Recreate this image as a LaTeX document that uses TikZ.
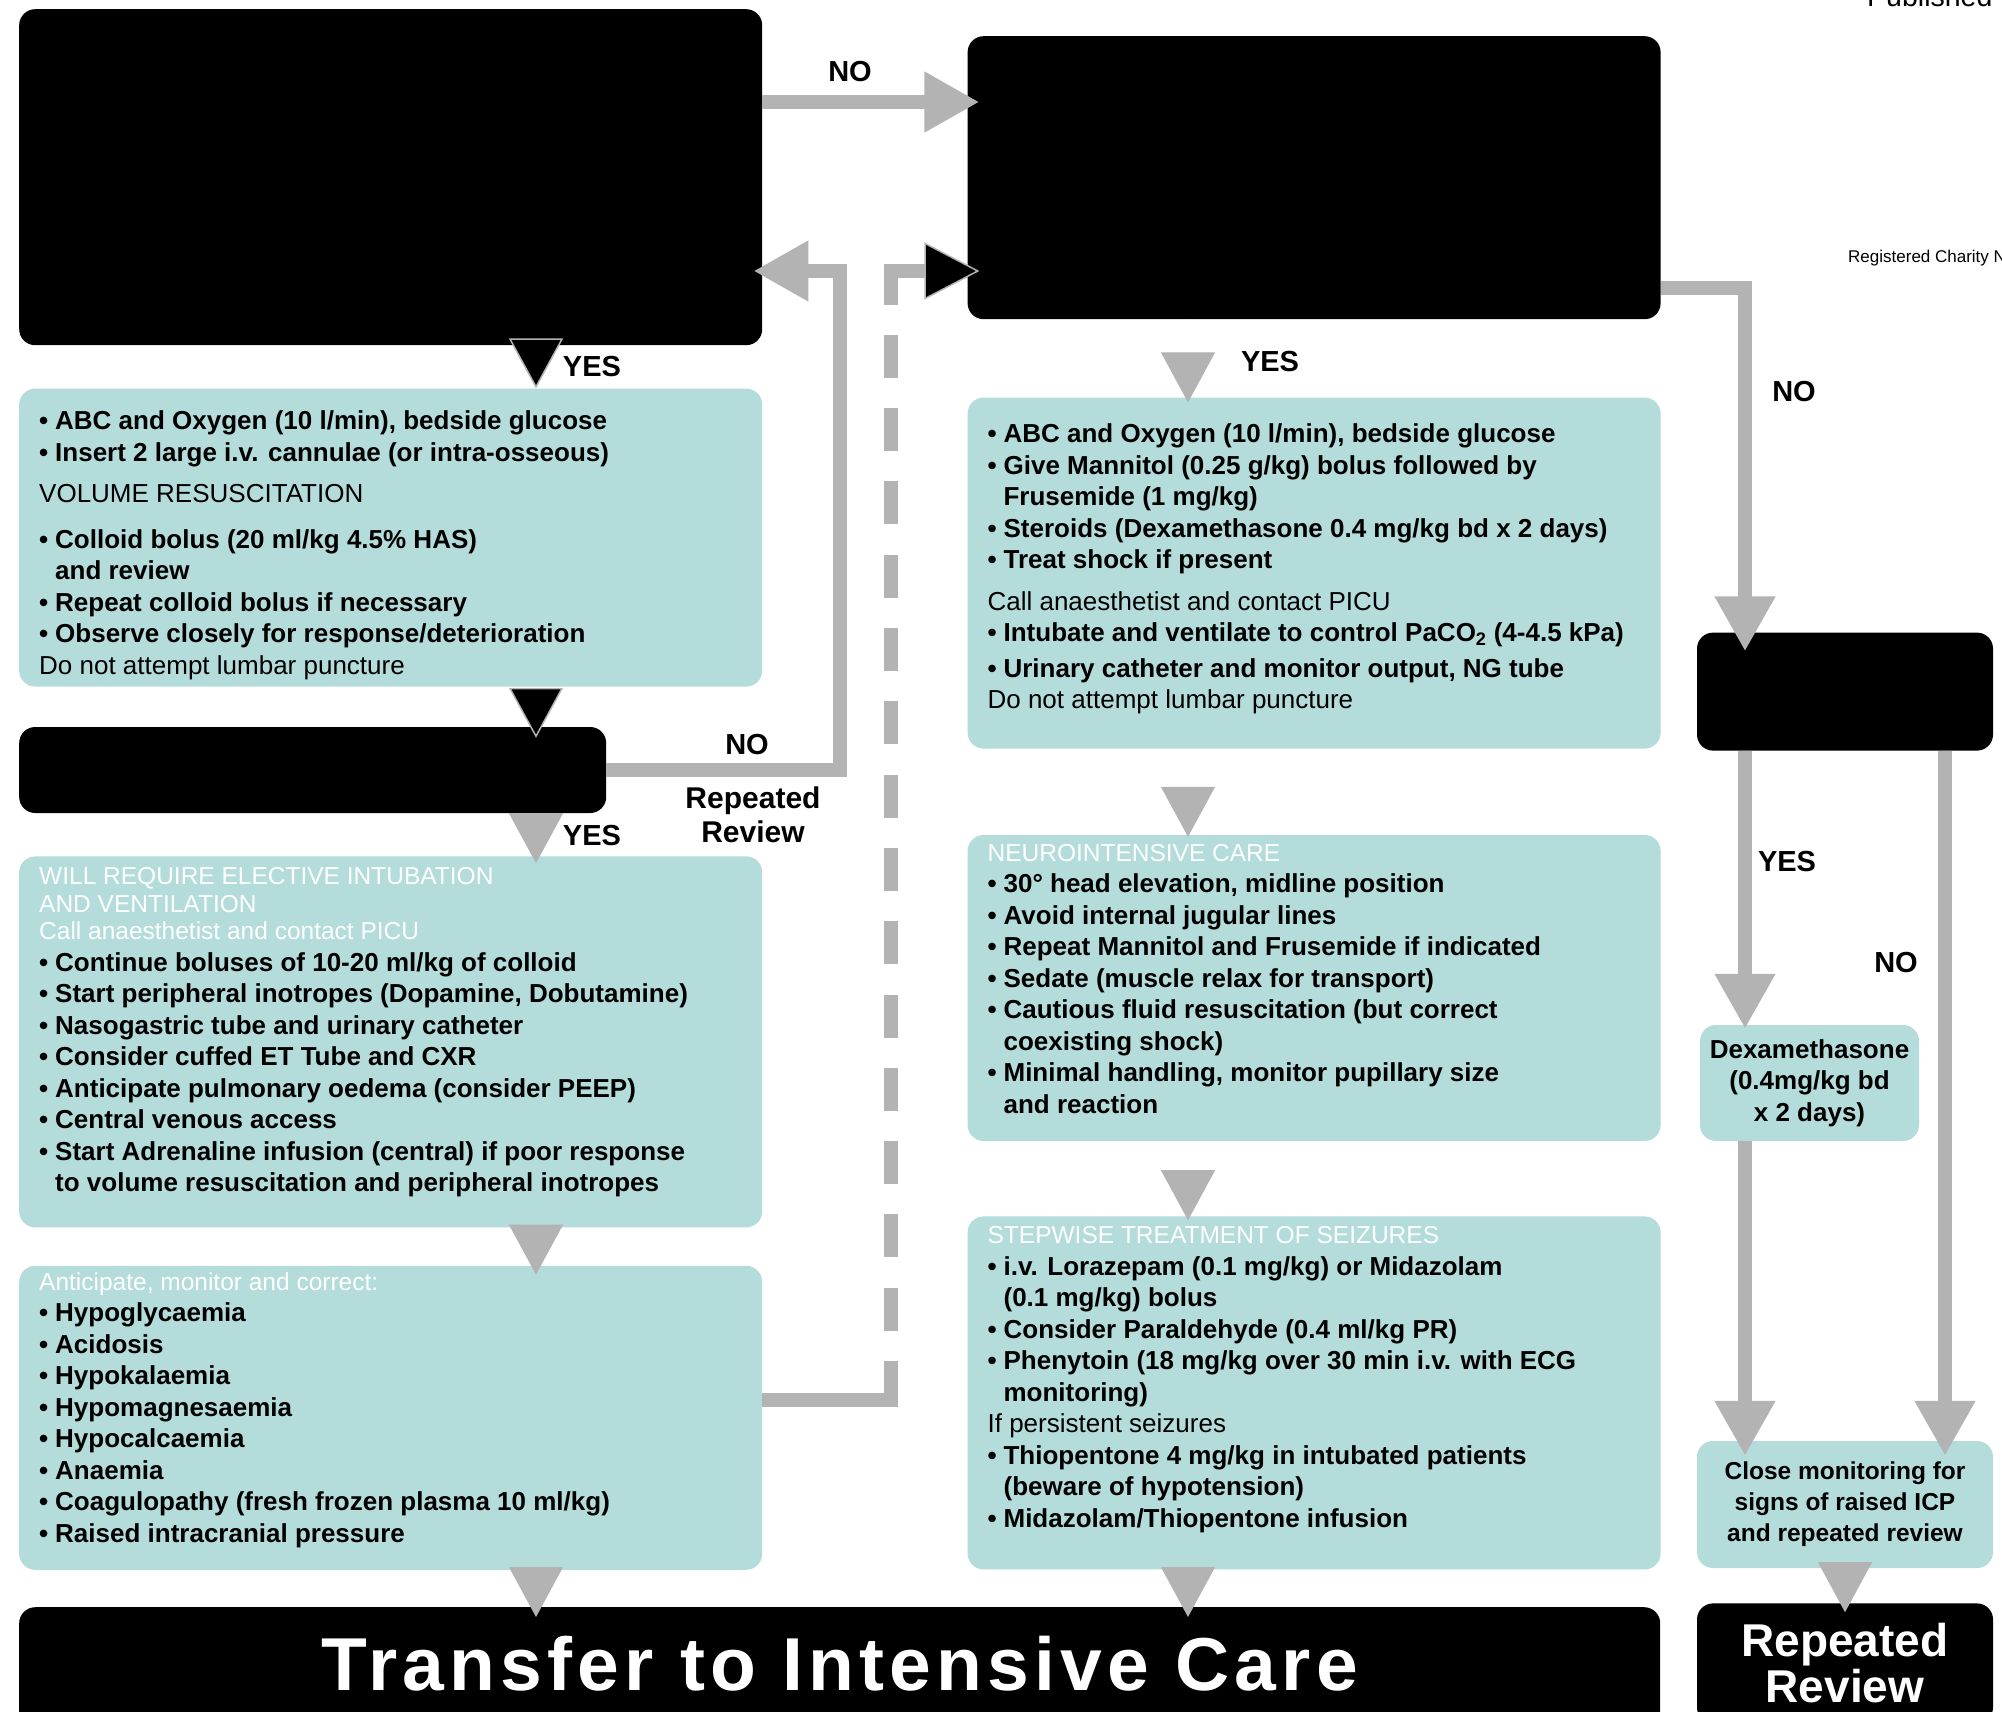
\documentclass[tikz,border=0pt]{standalone}
\usepackage{fontspec}
\setmainfont{Liberation Sans}
\usetikzlibrary{positioning, arrows.meta}

\definecolor{panelteal}{HTML}{B3DCDB}
\definecolor{arrowgray}{HTML}{B3B3B3}

% teal panel body: width, height, top gap, lines
\newcommand\paneltext[4]{\makebox[#1][l]{\parbox[c][#2][t]{\dimexpr#1+150pt\relax}{%
  \leftskip=20pt \rightskip=0pt plus 1fil \parfillskip=0pt plus 1fil
  \fontsize{26}{31.5}\selectfont\bfseries\vspace*{#3}#4\par}}}
\newcommand\bul[1][0pt]{\par\vspace{#1}\bfseries\hangindent=16pt\hangafter=1%
  \strut\makebox[16pt][l]{\textbullet}\ignorespaces}
\newcommand\plain[1][0pt]{\par\vspace{#1}\mdseries\strut\ignorespaces}
\newcommand\head[1]{\par{\mdseries\fontsize{24.5}{27.5}\selectfont\strut\color{white}#1\par}}

\tikzset{
  darkbox/.style={fill=black, rounded corners=16pt, inner sep=0pt},
  panel/.style={fill=panelteal, rounded corners=16pt, inner sep=0pt},
  note/.style={fill=panelteal, rounded corners=16pt, inner sep=0pt, align=center,
               font=\bfseries\fontsize{26}{31.5}\selectfont},
  link/.style={draw=arrowgray, line width=14pt},
  flow/.style={link, -{Triangle[length=55pt, width=57pt]}, shorten >=-12pt},
  drop/.style={draw=white, line width=0.01pt, shorten >=-7pt,
               -{Triangle[length=50pt, width=54pt, line width=1pt, color=arrowgray]}},
  blackdrop/.style={drop, -{Triangle[length=50pt, width=54pt, line width=1.5pt, color=arrowgray, fill=black]}},
  answer/.style={inner sep=0pt, font=\bfseries\fontsize{29}{29}\selectfont}
}

\begin{document}
\begin{tikzpicture}[x=1pt, y=-1pt, font=\fontsize{26}{31.5}\selectfont]
\useasboundingbox (0,0) rectangle (2002,1712);

% left column
\node[darkbox, minimum width=743pt, minimum height=336pt, anchor=north west] (shock) at (19,9) {};
\node[panel, below right=43pt and 0pt of shock.south west] (resus) {\paneltext{743pt}{298pt}{19pt}{%
  \bul ABC and Oxygen (10 l/min), bedside glucose
  \bul Insert 2 large i.v. cannulae (or intra-osseous)
  \plain[10pt] VOLUME RESUSCITATION
  \bul[14pt] Colloid bolus (20 ml/kg 4.5\% HAS)\\and review
  \bul Repeat colloid bolus if necessary
  \bul Observe closely for response/deterioration
  \plain Do not attempt lumbar puncture}};
\node[darkbox, minimum width=587pt, minimum height=86pt, below right=40pt and 0pt of resus.south west] (persist) {};
\node[panel, below right=43pt and 0pt of persist.south west] (elective) {\paneltext{743pt}{371pt}{9pt}{%
  \head{WILL REQUIRE ELECTIVE INTUBATION\\AND VENTILATION\\Call anaesthetist and contact PICU}
  \bul Continue boluses of 10-20 ml/kg of colloid
  \bul Start peripheral inotropes (Dopamine, Dobutamine)
  \bul Nasogastric tube and urinary catheter
  \bul Consider cuffed ET Tube and CXR
  \bul Anticipate pulmonary oedema (consider PEEP)
  \bul Central venous access
  \bul Start Adrenaline infusion (central) if poor response\\to volume resuscitation and peripheral inotropes}};
\node[panel, below right=38pt and 0pt of elective.south west] (correct) {\paneltext{743pt}{304pt}{5pt}{%
  \head{Anticipate, monitor and correct:}
  \bul Hypoglycaemia
  \bul Acidosis
  \bul Hypokalaemia
  \bul Hypomagnesaemia
  \bul Hypocalcaemia
  \bul Anaemia
  \bul Coagulopathy (fresh frozen plasma 10 ml/kg)
  \bul Raised intracranial pressure}};
\node[darkbox, minimum width=1641pt, minimum height=130pt, text=white, text height=54pt, text depth=18pt,
      font=\fontsize{75}{75}\selectfont\bfseries\addfontfeature{LetterSpace=7},
      below right=37pt and 0pt of correct.south west] (transfer) {Transfer to Intensive Care};

% middle column
\node[darkbox, minimum width=693pt, minimum height=283pt, below right=27pt and 205pt of shock.north east] (icp) {};
\node[panel, below right=78pt and 0pt of icp.south west] (icpcare) {\paneltext{693pt}{351pt}{23pt}{%
  \bul ABC and Oxygen (10 l/min), bedside glucose
  \bul Give Mannitol (0.25 g/kg) bolus followed by\\Frusemide (1 mg/kg)
  \bul Steroids (Dexamethasone 0.4 mg/kg bd x 2 days)
  \bul Treat shock if present
  \plain[10pt] Call anaesthetist and contact PICU
  \bul Intubate and ventilate to control PaCO\textsubscript{2} (4-4.5 kPa)
  \bul[4pt] Urinary catheter and monitor output, NG tube
  \plain Do not attempt lumbar puncture}};
\node[panel, below right=86pt and 0pt of icpcare.south west] (neuro) {\paneltext{693pt}{306pt}{7pt}{%
  \head{NEUROINTENSIVE CARE}
  \bul 30° head elevation, midline position
  \bul Avoid internal jugular lines
  \bul Repeat Mannitol and Frusemide if indicated
  \bul Sedate (muscle relax for transport)
  \bul Cautious fluid resuscitation (but correct\\coexisting shock)
  \bul Minimal handling, monitor pupillary size\\and reaction}};
\node[panel, below right=75pt and 0pt of neuro.south west] (seizure) {\paneltext{693pt}{353pt}{8pt}{%
  \head{STEPWISE TREATMENT OF SEIZURES}
  \bul i.v. Lorazepam (0.1 mg/kg) or Midazolam\\(0.1 mg/kg) bolus
  \bul Consider Paraldehyde (0.4 ml/kg PR)
  \bul Phenytoin (18 mg/kg over 30 min i.v. with ECG\\monitoring)
  \plain If persistent seizures
  \bul Thiopentone 4 mg/kg in intubated patients\\(beware of hypotension)
  \bul Midazolam/Thiopentone infusion}};

% right column
\node[darkbox, minimum width=296pt, minimum height=118pt, below right=313pt and 36pt of icp.south east] (focal) {};
\node[note, minimum width=219pt, minimum height=116pt, below right=274pt and 3pt of focal.south west] (dexa)
  {Dexamethasone\\(0.4mg/kg bd\\x 2 days)};
\node[note, minimum width=296pt, minimum height=127pt, font=\bfseries\fontsize{24.5}{31}\selectfont,
      below right=690pt and 0pt of focal.south west] (monitor)
  {Close monitoring for\\signs of raised ICP\\and repeated review};
\node[darkbox, minimum width=296pt, minimum height=120pt, text=white, align=center,
      font=\bfseries\fontsize{46}{46}\selectfont, below right=35pt and 0pt of monitor.south west] (review)
  {Repeated\\Review};

% corner texts
\node[anchor=base west, inner sep=0pt, font=\fontsize{28.5}{30}\selectfont] (pub) at (1867,7) {Published};
\node[anchor=base west, inner sep=0pt, font=\fontsize{17}{20}\selectfont] (charity) at (1848,263) {Registered Charity N};

% connectors
\coordinate (lx) at (536,0);
\coordinate (mx) at (1188,0);
\coordinate (rx1) at (1745,0);
\coordinate (rx2) at (1945,0);
\coordinate (noA) at ([yshift=-93pt]shock.north east);
\coordinate (loop) at (840,271);
\coordinate (dlow) at (891,1361);
\coordinate (dtop) at (891,271);

\draw[flow] (noA) -- (noA -| icp.west);
\draw[flow, shorten >=-9pt] (persist.east) -| (loop) -- (loop -| shock.east);
\draw[link] ([yshift=18pt]correct.east) -| (dlow);
\draw[link, dash pattern=on 43pt off 30.3pt, dash phase=43pt] (dlow) -- (dtop);
\draw[flow, -{Triangle[length=55pt, width=57pt, line width=1.5pt, fill=black]}] ([xshift=-7pt]dtop) -- (dtop -| icp.west);
\draw[flow, shorten >=-19pt] ([yshift=31pt]icp.south east) -| (focal.north -| rx1);
\draw[flow, shorten >=-4pt] (focal.south -| rx1) -- (dexa.north -| rx1);
\draw[flow, shorten >=-15pt] (focal.south -| rx2) -- (monitor.north -| rx2);
\draw[flow, shorten >=-15pt] (dexa.south -| rx1) -- (monitor.north -| rx1);

\draw[blackdrop, shorten >=0pt] (shock.south -| lx) -- (resus.north -| lx);
\draw[blackdrop, shorten >=-11pt] (resus.south -| lx) -- (persist.north -| lx);
\draw[drop] (persist.south -| lx) -- (elective.north -| lx);
\draw[drop, shorten >=-9pt] (elective.south -| lx) -- (correct.north -| lx);
\draw[drop, shorten >=-10pt] (correct.south -| lx) -- (transfer.north -| lx);
\draw[drop, shorten >=-5pt] (icp.south -| mx) -- (icpcare.north -| mx);
\draw[drop, shorten >=-2pt] (icpcare.south -| mx) -- (neuro.north -| mx);
\draw[drop, shorten >=-4pt] (neuro.south -| mx) -- (seizure.north -| mx);
\draw[drop, shorten >=-10pt] (seizure.south -| mx) -- (transfer.north -| mx);
\draw[drop, shorten >=-9pt] (monitor) -- (review);

% answers
\node[answer] (noab) at (850,72) {NO};
\node[answer] (yesa) at (592,367) {YES};
\node[answer] (yesd) at (592,836) {YES};
\node[answer] (nod) at (747,745) {NO};
\node[answer, align=center, font=\bfseries\fontsize{30}{34}\selectfont] (revd) at (753,815) {Repeated\\Review};
\node[answer] (yesb) at (1270,362) {YES};
\node[answer] (nob) at (1794,392) {NO};
\node[answer] (yesc) at (1787,862) {YES};
\node[answer] (noc) at (1896,963) {NO};
\end{tikzpicture}
\end{document}
